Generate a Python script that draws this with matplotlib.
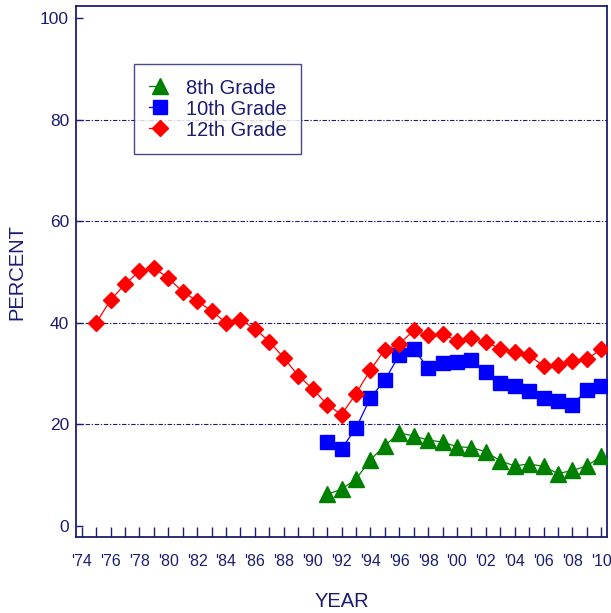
import matplotlib
matplotlib.use("Agg")
import matplotlib.pyplot as plt
from matplotlib.legend_handler import HandlerBase
from matplotlib.lines import Line2D

years12 = list(range(1975, 2011))
grade12 = [40.0, 44.5, 47.6, 50.2, 50.8, 48.8, 46.1, 44.3, 42.3, 40.0,
           40.6, 38.8, 36.3, 33.1, 29.6, 27.0, 23.9, 21.9, 26.0, 30.7,
           34.7, 35.8, 38.5, 37.5, 37.8, 36.5, 37.0, 36.2, 34.9, 34.3,
           33.6, 31.5, 31.7, 32.4, 32.8, 34.8]
years_8_10 = list(range(1991, 2011))
grade10 = [16.5, 15.2, 19.2, 25.2, 28.7, 33.6, 34.8, 31.1, 32.1, 32.2,
           32.7, 30.3, 28.2, 27.5, 26.6, 25.2, 24.6, 23.9, 26.7, 27.5]
grade8 = [6.2, 7.2, 9.2, 13.0, 15.8, 18.3, 17.7, 16.9, 16.5, 15.6,
          15.4, 14.6, 12.8, 11.8, 12.2, 11.7, 10.3, 10.9, 11.8, 13.7]
tick_years = list(range(1974, 2011, 2))
tick_labels = ["'%02d" % (y % 100) for y in tick_years]
ytick_vals = [0, 20, 40, 60, 80, 100]

navy = '#1c1c72'
plt.rcParams['font.family'] = ['Liberation Sans', 'DejaVu Sans']

fig = plt.figure(figsize=(6.11, 6.13), dpi=100)
ax = fig.add_axes([76/611, 1-537/613, (607-76)/611, (537-6)/613])

for y in [20, 40, 60, 80]:
    ax.axhline(y, color=navy, lw=0.8, dashes=(4, 1.5, 1.2, 1.5), zorder=1)

l8, = ax.plot(years_8_10, grade8, color='#008000', lw=0.9, marker='^', ms=11.5,
              markeredgecolor='#008000', label='8th Grade', zorder=3)
l10, = ax.plot(years_8_10, grade10, color='#0000ff', lw=0.9, marker='s', ms=10,
               markeredgecolor='#0000ff', label='10th Grade', zorder=3)
l12, = ax.plot(years12, grade12, color='#ff0000', lw=0.9, marker='D', ms=8.3,
               markeredgecolor='#ff0000', label='12th Grade', zorder=4)

ax.set_xlim(1973.6, 2010.4)
ax.set_ylim(-2.2, 102.4)
ax.set_xticks(range(1974, 2011), minor=True)
ax.set_xticks(tick_years)
ax.set_xticklabels(tick_labels)
ax.set_yticks(ytick_vals)
ax.tick_params(axis='x', which='both', direction='in', length=7, width=1,
               color=navy, labelcolor=navy, labelsize=11.5, pad=12)
ax.tick_params(axis='y', direction='in', length=5, width=1, color=navy,
               labelcolor=navy, labelsize=12.5, pad=5)
for s in ax.spines.values():
    s.set_color(navy)
    s.set_linewidth(1.3)

ax.set_xlabel('YEAR', color=navy, fontsize=14.5, labelpad=17)
ax.set_ylabel('PERCENT', color=navy, fontsize=14.5, labelpad=10)


class RightMarker(HandlerBase):
    def create_artists(self, legend, orig_handle, xdescent, ydescent,
                       width, height, fontsize, trans):
        yc = (height - ydescent) / 2.0
        x0 = -xdescent
        x1 = -xdescent + width
        line = Line2D([x0, x1], [yc, yc], color=orig_handle.get_color(),
                      lw=orig_handle.get_linewidth())
        mk = Line2D([x1], [yc], linestyle='none', marker=orig_handle.get_marker(),
                    markersize=orig_handle.get_markersize(),
                    color=orig_handle.get_color(),
                    markeredgecolor=orig_handle.get_markeredgecolor())
        line.set_transform(trans)
        mk.set_transform(trans)
        return [line, mk]


h = RightMarker()
leg = ax.legend(handles=[l8, l10, l12], loc='upper left',
                bbox_to_anchor=((134-76)/531, (537-64)/531),
                handler_map={l8: h, l10: h, l12: h},
                fontsize=14.5, frameon=True, fancybox=False, handlelength=0.55,
                handletextpad=1.3, labelspacing=0.1, borderpad=0.72,
                borderaxespad=0, labelcolor=navy)
leg.get_frame().set_edgecolor(navy)
leg.get_frame().set_linewidth(1.0)

fig.savefig('out.png', dpi=100)
